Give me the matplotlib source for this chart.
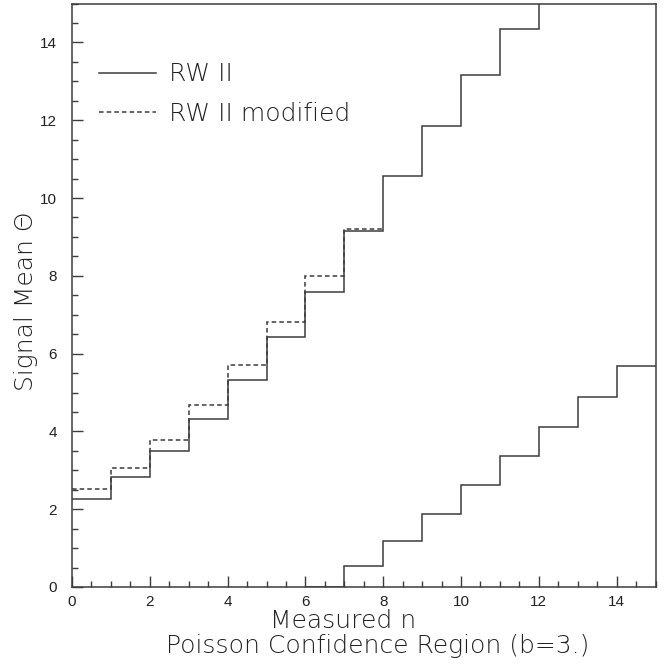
import numpy as np
import matplotlib
matplotlib.use("Agg")
import matplotlib.pyplot as plt
from matplotlib.ticker import MultipleLocator
from matplotlib.lines import Line2D

# ---- data ----
upper_edges = [0, 1, 2, 3, 4, 5, 6, 7, 8, 9, 10, 11, 12, 13]
upper_rw2 = [2.27, 2.83, 3.49, 4.33, 5.31, 6.42, 7.58, 9.16, 10.57, 11.86, 13.15, 14.35, 15.6]

mod_edges = [0, 1, 2, 3, 4, 5, 6, 7, 8]
upper_rw2_mod = [2.51, 3.07, 3.79, 4.68, 5.70, 6.81, 8.00, 9.21]

lower_edges = [6, 7, 8, 9, 10, 11, 12, 13, 14, 15]
lower_rw2 = [0.0, 0.53, 1.18, 1.88, 2.62, 3.36, 4.12, 4.88, 5.67]

xlabel = "Measured n"
subtitle = "Poisson Confidence Region (b=3.)"
ylabel = "Signal Mean \u0398"
legend_labels = ["RW II", "RW II modified"]

# ---- style ----
col = "#3c3c3c"
title_font = {"family": "DejaVu Sans", "weight": "light"}

fig = plt.figure(figsize=(6.72, 6.64), dpi=100)
W, H = 672, 664
ax = fig.add_axes([72 / W, 77 / H, 583.5 / W, 583.5 / H])

ax.stairs(upper_rw2_mod, mod_edges, baseline=None, color=col, lw=1.1,
          linestyle=(0, (3, 2)), zorder=2)
ax.stairs(upper_rw2, upper_edges, baseline=None, color=col, lw=1.1, zorder=3)
ax.stairs(lower_rw2, lower_edges, baseline=None, color=col, lw=1.1, zorder=3)

ax.set_xlim(0, 15)
ax.set_ylim(0, 15)

ax.xaxis.set_major_locator(MultipleLocator(2))
ax.xaxis.set_minor_locator(MultipleLocator(0.5))
ax.yaxis.set_major_locator(MultipleLocator(2))
ax.yaxis.set_minor_locator(MultipleLocator(0.5))
ax.tick_params(which="both", direction="in", color=col, width=1.0,
               top=False, right=False)
ax.tick_params(which="major", length=8)
ax.tick_params(which="minor", length=4)
ax.tick_params(axis="x", which="major", pad=6)
ax.tick_params(axis="y", which="major", pad=11)
for lab in ax.get_xticklabels() + ax.get_yticklabels():
    lab.set_fontfamily("Liberation Sans")
    lab.set_fontsize(11)
    lab.set_color("#222222")
for sp in ax.spines.values():
    sp.set_color(col)
    sp.set_linewidth(1.1)

handles = [Line2D([], [], color=col, lw=1.1),
           Line2D([], [], color=col, lw=1.1, linestyle=(0, (3, 2)))]
leg = ax.legend(handles, legend_labels, loc="upper left",
                bbox_to_anchor=(0.046, 0.899), frameon=False,
                prop={"family": "DejaVu Sans", "weight": "light", "size": 18},
                handlelength=2.3, handletextpad=0.5, labelspacing=0.61,
                borderpad=0, borderaxespad=0)
for t in leg.get_texts():
    t.set_color("#222222")

fig.text(343 / W, 1 - 628 / H, xlabel, ha="center", va="baseline",
         fontsize=18, color="#222222", **title_font)
fig.text(378 / W, 1 - 653 / H, subtitle, ha="center", va="baseline",
         fontsize=18, color="#222222", **title_font)
fig.text(26 / W, 1 - 301 / H, ylabel, ha="center", va="center", rotation=90,
         fontsize=18, color="#222222", **title_font)

fig.savefig("out.png", dpi=100)
